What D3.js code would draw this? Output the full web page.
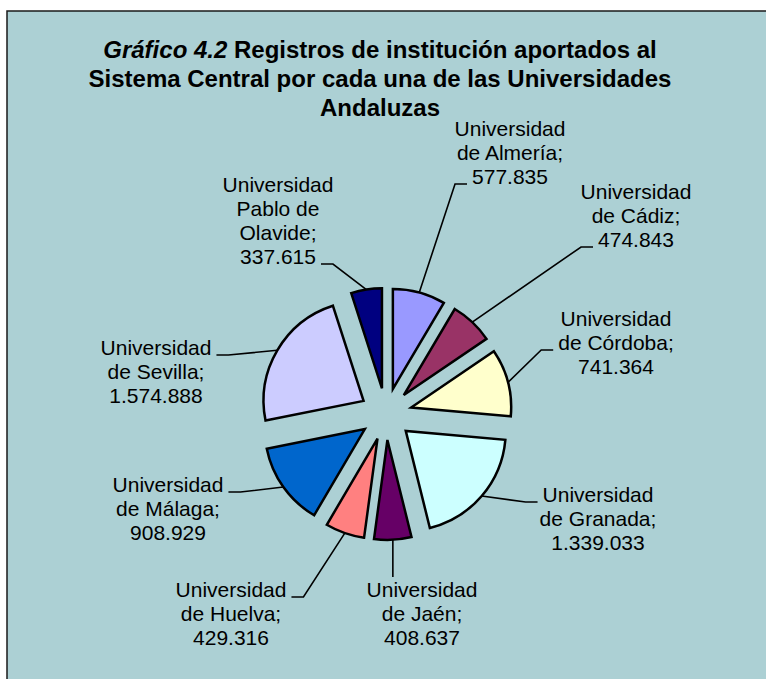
<!DOCTYPE html>
<html><head><meta charset="utf-8">
<script src="https://cdn.jsdelivr.net/npm/d3@7"></script>
<style>body{margin:0;background:#fff}svg{display:block}</style>
</head><body><svg id="c" width="766" height="679"></svg>
<script>
// ---- data ----
const categories = ["Universidad de Almería","Universidad de Cádiz","Universidad de Córdoba","Universidad de Granada","Universidad de Jaén","Universidad de Huelva","Universidad de Málaga","Universidad de Sevilla","Universidad Pablo de Olavide"];
const values = [577835, 474843, 741364, 1339033, 408637, 429316, 908929, 1574888, 337615];
const colors = ["#9999ff","#993366","#ffffcc","#ccffff","#660066","#ff8080","#0066cc","#ccccff","#000080"];
const titleItalic = "Gráfico 4.2";
const titleLines = ["Registros de institución aportados al","Sistema Central por cada una de las Universidades","Andaluzas"];

// ---- layout (label placement) ----
const labelLayout = [
  {x:510, y:136, line:2, side:"left"},
  {x:636, y:199, line:2, side:"left"},
  {x:616, y:326, line:1, side:"left"},
  {x:598, y:502, line:0, side:"left"},
  {x:422, y:597, line:null, side:"top"},
  {x:231, y:597, line:0, side:"right"},
  {x:168, y:492, line:0, side:"right"},
  {x:156, y:355, line:0, side:"right"},
  {x:278, y:192, line:3, side:"right"}
];

const W = 766, H = 679;
const cx = 386, cy = 414, R = 100, explode = 26, lineH = 24;
const svg = d3.select("#c");

svg.append("rect").attr("x",7).attr("y",11).attr("width",W+10).attr("height",H+10)
  .attr("fill","#acd0d4").attr("stroke","#1a1a1a").attr("stroke-width",1.5);

const locale = d3.formatLocale({decimal:",", thousands:".", grouping:[3], currency:["","€"]});
const fmt = locale.format(",");

function labelLines(name, v){
  const first = name.split(" ")[0];
  let rest = name.slice(first.length+1);
  const lines = [first];
  if (rest.length > 12){
    const i = rest.lastIndexOf(" ");
    lines.push(rest.slice(0,i)); rest = rest.slice(i+1);
  }
  lines.push(rest + ";");
  lines.push(fmt(v));
  return lines;
}

const pie = d3.pie().sort(null).value(d=>d.v).startAngle(0).endAngle(2*Math.PI);
const data = categories.map((c,i)=>({c, v:values[i], col:colors[i], lay:labelLayout[i]}));
const arcs = pie(data);
const arc = d3.arc().innerRadius(0).outerRadius(R);

const g = svg.append("g").attr("transform",`translate(${cx},${cy})`);
arcs.forEach(a=>{
  const m = (a.startAngle+a.endAngle)/2;
  a.dx = Math.sin(m)*explode; a.dy = -Math.cos(m)*explode;
  a.px = cx + Math.sin(m)*(R+explode); a.py = cy - Math.cos(m)*(R+explode);
});
g.selectAll("path.slice").data(arcs).join("path").attr("class","slice")
  .attr("transform",d=>`translate(${d.dx},${d.dy})`)
  .attr("d",arc).attr("fill",d=>d.data.col)
  .attr("stroke","#000").attr("stroke-width",2.5).attr("stroke-linejoin","miter");

const font = "'Liberation Sans', Arial, sans-serif";
const lg = svg.append("g");
arcs.forEach(a=>{
  const L = a.data.lay;
  const lines = labelLines(a.data.c, a.data.v);
  const t = lg.append("text").attr("font-family",font).attr("font-size",21)
    .attr("fill","#000").attr("text-anchor","middle");
  const spans = lines.map((s,i)=>t.append("tspan").attr("x",L.x).attr("y",L.y+i*lineH).text(s));
  let pts;
  if (L.side === "top"){
    pts = [[a.px,a.py],[a.px, L.y-20]];
  } else {
    const w = spans[L.line].node().getComputedTextLength();
    const by = L.y + L.line*lineH;
    if (L.side === "left"){
      const e = L.x - w/2 - 5;
      pts = [[a.px,a.py],[e-12,by],[e,by]];
    } else {
      const e = L.x + w/2 + 5;
      pts = [[a.px,a.py],[e+12,by],[e,by]];
    }
  }
  lg.append("path").attr("d",d3.line()(pts)).attr("fill","none")
    .attr("stroke","#000").attr("stroke-width",1.6);
});

const tt = svg.append("text").attr("font-family",font).attr("font-size",24)
  .attr("font-weight","bold").attr("text-anchor","middle").attr("fill","#000");
const l1 = tt.append("tspan").attr("x",380).attr("y",58);
l1.append("tspan").attr("font-style","italic").text(titleItalic + " ");
l1.append("tspan").text(titleLines[0]);
titleLines.slice(1).forEach((s,i)=>tt.append("tspan").attr("x",380).attr("y",87+i*29).text(s));
</script></body></html>
